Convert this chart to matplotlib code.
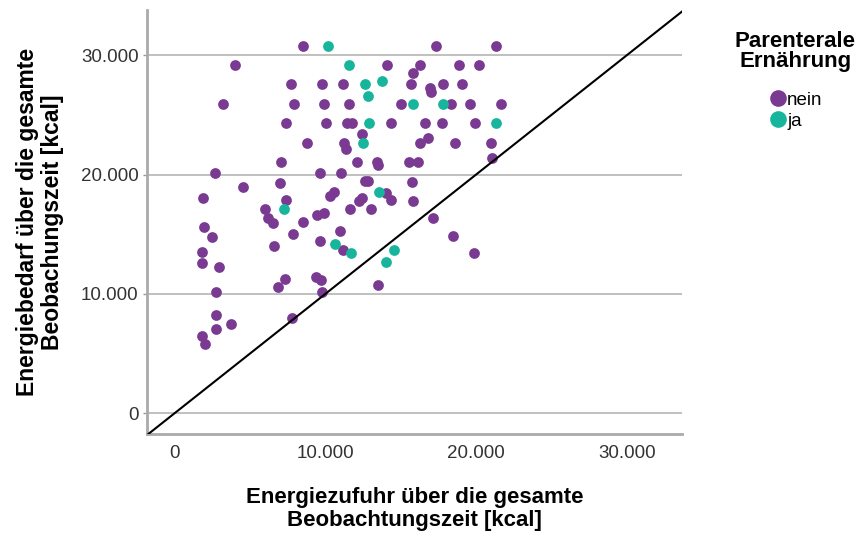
import matplotlib.pyplot as plt
from matplotlib.lines import Line2D
from matplotlib.ticker import FuncFormatter

plt.rcParams['font.family'] = ['Liberation Sans', 'DejaVu Sans']

# Parenterale Ernährung = nein
zufuhr_nein = [8520, 17370, 21330, 4000, 14110, 16260, 15850, 18870, 20180, 7760,
               9780, 11190, 15670, 16940, 16990, 17820, 19050, 3200, 7940, 9900,
               11580, 15040, 18320, 19610, 21630, 7390, 10030, 11470, 11750, 14360,
               16610, 17770, 19960, 8820, 11270, 11370, 12410, 16280, 16780, 18600,
               20970, 21040, 7060, 12120, 13460, 13530, 15570, 16180, 2670, 9660,
               11030, 12650, 12850, 15750, 7030, 4560, 1870, 7410, 10310, 10590,
               12230, 12410, 14030, 14360, 15800, 6000, 6220, 6550, 9430, 9910,
               8540, 11660, 13020, 17160, 1980, 2490, 7880, 9620, 10970, 6620,
               11160, 18450, 19850, 1840, 1840, 2940, 7310, 6840, 9400, 9700,
               9780, 2770, 13510, 7770, 2730, 3750, 2750, 1860, 2020]
bedarf_nein = [30790, 30790, 30790, 29170, 29170, 29170, 28530, 29170, 29170, 27550,
               27550, 27550, 27550, 27220, 26930, 27550, 27550, 25920, 25920, 25920,
               25920, 25920, 25920, 25920, 25920, 24290, 24290, 24290, 24290, 24290,
               24290, 24290, 24290, 22660, 22680, 22160, 23390, 22660, 23030, 22660,
               22660, 21420, 21010, 21030, 21030, 20800, 21030, 21030, 20110, 20140,
               20140, 19500, 19430, 19410, 19310, 18940, 18070, 17910, 18240, 18510,
               17820, 18030, 18490, 17910, 17820, 17090, 16330, 15980, 16610, 16800,
               16020, 17090, 17090, 16370, 15630, 14780, 15030, 14410, 15310, 14050,
               13650, 14870, 13400, 13510, 12630, 12240, 11230, 10550, 11390, 11160,
               10160, 10180, 10750, 8010, 8210, 7500, 7040, 6490, 5800]

# Parenterale Ernährung = ja
zufuhr_ja = [10160, 11590, 12650, 13780, 12810, 15800, 17780, 12920, 21350, 12480,
             13590, 7270, 10640, 11740, 14590, 14030]
bedarf_ja = [30790, 29170, 27550, 27860, 26550, 25920, 25920, 24290, 24290, 22680,
             18530, 17090, 14150, 13400, 13680, 12660]

ticks = [0, 10000, 20000, 30000]
groups = ['nein', 'ja']
colors = ['#7a3a92', '#16b59c']

fig = plt.figure(figsize=(8.59, 5.33), dpi=100)
ax = fig.add_axes([0.1711, 0.1857, 0.6228, 0.7955])

ax.scatter(zufuhr_nein, bedarf_nein, s=60, color=colors[0], linewidths=0, zorder=3)
ax.scatter(zufuhr_ja, bedarf_ja, s=60, color=colors[1], linewidths=0, zorder=4)

lo, hi = -1820, 33780
ax.set_xlim(-1820, 33650)
ax.set_ylim(-1730, 33780)
ax.plot([lo, hi], [lo, hi], color='black', lw=1.5, zorder=5)

ax.set_xticks(ticks)
ax.set_yticks(ticks)
fmt = FuncFormatter(lambda v, p: f'{int(v):,}'.replace(',', '.'))
ax.xaxis.set_major_formatter(fmt)
ax.yaxis.set_major_formatter(fmt)
ax.tick_params(axis='x', length=0, pad=8, labelsize=13.5, labelcolor='#333333')
ax.tick_params(axis='y', length=3, width=1, color='#999999', pad=3,
               labelsize=13.5, labelcolor='#333333')

ax.grid(axis='y', color='#bbbbbb', lw=1.3, zorder=0)
ax.set_axisbelow(True)
for s in ['top', 'right']:
    ax.spines[s].set_visible(False)
for s in ['left', 'bottom']:
    ax.spines[s].set_color('#aaaaaa')
    ax.spines[s].set_linewidth(2)

ax.set_xlabel('Energiezufuhr über die gesamte\nBeobachtungszeit [kcal]',
              fontsize=16, fontweight='bold', labelpad=18, linespacing=1.1)
ax.set_ylabel('Energiebedarf über die gesamte\nBeobachungszeit [kcal]',
              fontsize=16.5, fontweight='bold', labelpad=12, linespacing=1.1)

handles = [Line2D([], [], marker='o', ls='', markersize=12, color=c,
                  markeredgewidth=0) for c in colors]
leg = fig.legend(handles, groups, title='Parenterale\nErnährung',
                 loc='upper center', bbox_to_anchor=(0.926, 0.973),
                 frameon=False, fontsize=13.5, handletextpad=0.0,
                 labelspacing=0.2, handlelength=1.0,
                 title_fontproperties={'weight': 'bold', 'size': 16})
leg.get_title().set_multialignment('center')
leg.get_title().set_linespacing(0.95)
leg._legend_box.sep = 14

fig.savefig('out.png', dpi=100)
